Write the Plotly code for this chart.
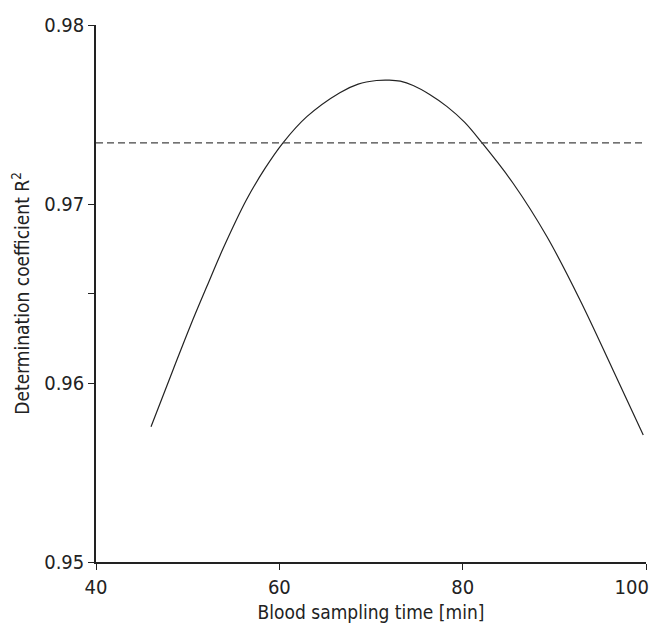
import plotly.graph_objects as go

# Data
time_min = [46.0, 48.4, 50.3, 52.1, 53.9, 56.4, 58.4, 60.4, 63.0, 66.6, 68.6, 70.6, 72.0, 73.2,
            74.6, 76.4, 78.3, 80.2, 82.1, 85.5, 89.2, 92.8, 96.4, 99.7]
r2 = [0.95756, 0.96073, 0.96320, 0.96540, 0.96755, 0.97022, 0.97196, 0.97342, 0.97488, 0.97622,
      0.97670, 0.97690, 0.97692, 0.97686, 0.97662, 0.97612, 0.97544, 0.97457, 0.97342, 0.97116,
      0.96817, 0.96464, 0.96073, 0.95709]
reference_r2 = 0.97342
x_range = [40, 100]
y_range = [0.95, 0.98]
x_ticks = [40, 60, 80, 100]
x_ticktext = ["40", "60", "80", "100" + "\u00a0" * 5]
y_ticks = [0.95, 0.96, 0.97, 0.98]
y_ticktext = ["0.95", "0.96", "0.97", "0.98"]
y_minor = [0.965]

FONT = "DejaVu Sans Condensed, Liberation Sans Narrow, sans-serif"

fig = go.Figure()
fig.add_trace(go.Scatter(x=time_min, y=r2, mode="lines",
                         line=dict(color="#222", width=1.2, shape="spline", smoothing=1.0),
                         showlegend=False, hoverinfo="skip"))
fig.add_trace(go.Scatter(x=x_range, y=[reference_r2, reference_r2], mode="lines",
                         line=dict(color="#444", width=1.3, dash="7px,4px"),
                         showlegend=False, hoverinfo="skip"))

axis_common = dict(ticks="outside", ticklen=6, tickwidth=1.3, tickcolor="#222",
                   showline=True, linecolor="#222", linewidth=1.5, showgrid=False,
                   zeroline=False, ticklabeloverflow="allow", automargin=False,
                   tickfont=dict(size=20))

fig.update_layout(
    width=650, height=624,
    margin=dict(l=96, r=4, t=25, b=62),
    paper_bgcolor="white", plot_bgcolor="white",
    font=dict(family=FONT, size=20, color="#222"),
    xaxis=dict(range=x_range, tickvals=x_ticks, ticktext=x_ticktext,
               title=dict(text="Blood sampling time [min]", font=dict(size=19), standoff=8),
               **axis_common),
    yaxis=dict(range=y_range, tickvals=y_ticks, ticktext=y_ticktext,
               minor=dict(tickvals=y_minor, ticks="outside", ticklen=6, tickwidth=1.3,
                          tickcolor="#222", showgrid=False),
               title=dict(text="\u00a0" * 6 + "Determination coefficient R<sup>2</sup>",
                          font=dict(size=19), standoff=10),
               **axis_common),
)

fig.write_html("out.html")
